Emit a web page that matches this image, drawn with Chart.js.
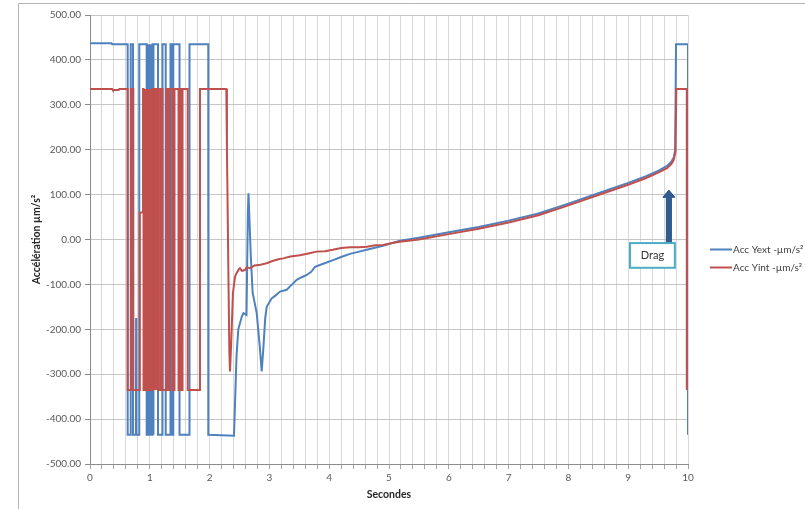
<!DOCTYPE html>
<html>
<head>
<meta charset="utf-8">
<script src="https://cdn.jsdelivr.net/npm/chart.js@4/dist/chart.umd.min.js"></script>
<style>
  html, body { margin: 0; padding: 0; background: #fff; }
  #wrap { position: relative; width: 805px; height: 509px; }
</style>
</head>
<body>
<div id="wrap"><canvas id="c" width="805" height="509"></canvas></div>
<script>
// Acc Yext (external accelerometer), time in seconds / value in µm/s²
const extTimes = [
  0.000, 0.360, 0.370, 0.630, 0.630, 0.681, 0.681, 0.719, 0.719, 0.768, 0.771, 0.775, 0.824,
  0.824, 0.948, 0.948, 0.960, 0.960, 0.968, 0.968, 0.978, 0.978, 0.985, 0.985, 0.996, 0.996,
  1.003, 1.003, 1.010, 1.010, 1.018, 1.018, 1.028, 1.028, 1.036, 1.036, 1.047, 1.047, 1.055,
  1.055, 1.064, 1.064, 1.137, 1.137, 1.212, 1.212, 1.266, 1.266, 1.346, 1.346, 1.363, 1.363,
  1.393, 1.393, 1.497, 1.497, 1.664, 1.664, 1.978, 1.978,
  2.408, 2.450, 2.480, 2.537, 2.565, 2.617, 2.640, 2.650, 2.665, 2.690, 2.720, 2.788, 2.840,
  2.871, 2.900, 2.930, 2.955, 3.038, 3.110, 3.177, 3.289, 3.380, 3.456, 3.540, 3.624, 3.700,
  3.763, 3.900, 4.064, 4.200, 4.348, 4.500, 4.627, 4.900, 5.184, 5.500, 6.000, 6.500, 7.000,
  7.500, 8.000, 8.500, 9.000, 9.300, 9.500, 9.650, 9.720, 9.760, 9.785, 9.800, 10.000, 10.000
];
const extValues = [
  437, 437, 435, 435, -435, -435, 435, 435, -435, -435, -175, -435, -435,
  435, 435, -435, -435, 435, 435, -435, -435, 435, 435, -435, -435, 435,
  435, -320, -320, 435, 435, -435, -435, 435, 435, -435, -435, 435, 435,
  -435, -435, 435, 435, -435, -435, 435, 435, -435, -435, 435, 435, -435,
  -435, 435, 435, -435, -435, 435, 435, -435,
  -437, -260, -200, -172, -164, -168, 60, 103, 50, -40, -119, -164, -240,
  -294, -240, -175, -150, -131, -124, -116, -112, -100, -90, -84, -79, -72,
  -61, -54, -46, -39, -32, -27, -23, -14, -3, 4, 16, 28, 42,
  58, 80, 103, 126, 141, 153, 164, 173, 182, 198, 435, 435, -435
];

// Acc Yint (internal accelerometer)
const intTimes = [
  0.000, 0.370, 0.380, 0.480, 0.490, 0.630, 0.630, 0.686, 0.686, 0.725, 0.725, 0.826, 0.826,
  0.836, 0.836, 0.886, 0.886, 0.895, 0.895, 0.905, 0.905, 0.913, 0.913, 0.922, 0.922, 0.930,
  0.930, 0.940, 0.940, 0.948, 0.948, 0.957, 0.957, 0.966, 0.966, 0.975, 0.975, 0.983, 0.983,
  0.992, 0.992, 1.001, 1.001, 1.010, 1.010, 1.018, 1.018, 1.028, 1.028, 1.036, 1.036, 1.046,
  1.046, 1.054, 1.054, 1.063, 1.063, 1.072, 1.072, 1.081, 1.081, 1.090, 1.090, 1.099, 1.099,
  1.108, 1.108, 1.117, 1.117, 1.126, 1.126, 1.135, 1.135, 1.145, 1.145, 1.179, 1.179, 1.212,
  1.212, 1.279, 1.279, 1.304, 1.304, 1.338, 1.338, 1.388, 1.388, 1.413, 1.413, 1.480, 1.480,
  1.505, 1.505, 1.533, 1.533, 1.547, 1.547, 1.634, 1.634, 1.839, 1.839,
  2.280, 2.290, 2.330, 2.341, 2.360, 2.390, 2.425, 2.450, 2.490, 2.508, 2.540, 2.592, 2.620,
  2.675, 2.750, 2.850, 2.955, 3.050, 3.150, 3.230, 3.350, 3.510, 3.650, 3.790, 3.930, 4.060,
  4.200, 4.350, 4.500, 4.630, 4.770, 4.900, 5.050, 5.180, 5.500, 6.000, 6.500, 7.000, 7.500,
  8.000, 8.500, 9.000, 9.300, 9.500, 9.650, 9.720, 9.760, 9.790, 9.805, 9.980, 9.980
];
const intValues = [
  335, 335, 333, 333, 335, 335, -335, -335, 335, 335, -335, -335, 25,
  25, 60, 60, 335, 335, -335, -335, 335, 335, -335, -335, 335, 335,
  -335, -335, 335, 335, -335, -335, 335, 335, -335, -335, 335, 335, -335,
  -335, 335, 335, -335, -335, 335, 335, -335, -335, 335, 335, -335, -335,
  335, 335, -335, -335, 335, 335, -335, -335, 335, 335, -335, -335, 335,
  335, -335, -335, 335, 335, -335, -335, 335, 335, -335, -335, 335, 335,
  -335, -335, 335, 335, -335, -335, 335, 335, -335, -335, 335, 335, -335,
  -335, 335, 335, -335, -335, 335, 335, -335, -335, 335,
  335, 200, -250, -294, -235, -120, -83, -75, -66, -64, -70, -68, -62,
  -64, -58, -56, -53, -48, -44, -42, -38, -35, -31, -27, -26, -23,
  -19, -17, -17, -16, -13, -12, -8, -5, 0, 12, 24, 38, 54,
  76, 99, 122, 137, 149, 159, 168, 177, 195, 335, 335, -335
];

const seriesNames = ['Acc Yext -µm/s²', 'Acc Yint -µm/s²'];
const xTickLabels = ['0', '1', '2', '3', '4', '5', '6', '7', '8', '9', '10'];
const calloutText = 'Drag';

const BLUE = '#4F81BD';
const RED = '#C0504D';
const FONT = 'Lato, "Open Sans", sans-serif';

function toPoints(times, values) {
  return times.map((t, i) => ({ x: t, y: values[i] }));
}

// frame, legend and the "Drag" callout with its arrow
const decorations = {
  id: 'decorations',
  beforeDraw(chart) {
    const ctx = chart.ctx;
    ctx.save();
    ctx.fillStyle = '#ffffff';
    ctx.fillRect(0, 0, chart.width, chart.height);
    ctx.strokeStyle = '#b4b4b4';
    ctx.lineWidth = 1;
    ctx.beginPath();
    ctx.moveTo(18.5, chart.height);
    ctx.lineTo(18.5, 3.5);
    ctx.lineTo(chart.width, 3.5);
    ctx.stroke();
    ctx.restore();
  },
  afterDraw(chart) {
    const ctx = chart.ctx;
    const xs = chart.scales.x, ys = chart.scales.y;
    ctx.save();

    // legend
    const colors = [BLUE, RED];
    const rows = [249.5, 267.5];
    ctx.font = '10px ' + FONT;
    ctx.textBaseline = 'middle';
    ctx.textAlign = 'left';
    seriesNames.forEach((name, i) => {
      ctx.strokeStyle = colors[i];
      ctx.lineWidth = 2;
      ctx.beginPath();
      ctx.moveTo(710, rows[i]);
      ctx.lineTo(732, rows[i]);
      ctx.stroke();
      ctx.fillStyle = '#404040';
      ctx.fillText(name, 733, rows[i]);
    });

    // arrow pointing up at the curve
    const ax = xs.getPixelForValue(9.68);
    const tipY = ys.getPixelForValue(110);
    const headY = ys.getPixelForValue(94);
    const baseY = ys.getPixelForValue(-8);
    ctx.fillStyle = '#2F5D8E';
    ctx.strokeStyle = '#27507C';
    ctx.lineWidth = 1;
    ctx.beginPath();
    ctx.moveTo(ax - 2.5, baseY);
    ctx.lineTo(ax - 2.5, headY);
    ctx.lineTo(ax - 6, headY);
    ctx.lineTo(ax, tipY);
    ctx.lineTo(ax + 6, headY);
    ctx.lineTo(ax + 2.5, headY);
    ctx.lineTo(ax + 2.5, baseY);
    ctx.closePath();
    ctx.fill();
    ctx.stroke();

    // callout box
    const bx0 = xs.getPixelForValue(9.03), bx1 = xs.getPixelForValue(9.78);
    const by0 = ys.getPixelForValue(-8), by1 = ys.getPixelForValue(-63);
    ctx.fillStyle = '#ffffff';
    ctx.fillRect(bx0, by0, bx1 - bx0, by1 - by0);
    ctx.strokeStyle = '#4BACC6';
    ctx.lineWidth = 2;
    ctx.strokeRect(bx0, by0, bx1 - bx0, by1 - by0);
    ctx.fillStyle = '#333333';
    ctx.font = '11px ' + FONT;
    ctx.textAlign = 'center';
    ctx.fillText(calloutText, (bx0 + bx1) / 2, (by0 + by1) / 2 + 0.5);
    ctx.restore();
  }
};

new Chart(document.getElementById('c'), {
  type: 'line',
  data: {
    datasets: [
      {
        label: seriesNames[0],
        data: toPoints(extTimes, extValues),
        borderColor: BLUE,
        backgroundColor: BLUE,
        borderWidth: 2,
        pointRadius: 0,
        tension: 0,
        order: 2
      },
      {
        label: seriesNames[1],
        data: toPoints(intTimes, intValues),
        borderColor: RED,
        backgroundColor: RED,
        borderWidth: 2,
        pointRadius: 0,
        tension: 0,
        order: 1
      }
    ]
  },
  options: {
    responsive: false,
    animation: false,
    devicePixelRatio: 1,
    layout: { padding: { left: 0, top: 15, right: 117, bottom: 0 } },
    plugins: {
      legend: { display: false },
      tooltip: { enabled: false }
    },
    scales: {
      x: {
        type: 'linear',
        min: 0,
        max: 10,
        afterFit(scale) { scale.height = 45; },
        ticks: {
          stepSize: 0.2,
          autoSkip: false,
          maxRotation: 0,
          padding: 3,
          color: '#595959',
          font: { family: FONT, size: 10 },
          callback(v) {
            const r = Math.round(v);
            return Math.abs(v - r) < 1e-6 ? xTickLabels[r] : '';
          }
        },
        grid: { color: '#d9d9d9', tickColor: '#a6a6a6', tickLength: 5, lineWidth: 1 },
        border: { color: '#8c8c8c' },
        title: {
          display: true,
          text: 'Secondes',
          color: '#262626',
          font: { family: FONT, size: 10.5, weight: 'bold' },
          padding: { top: 0, bottom: 8.5 }
        }
      },
      y: {
        min: -500,
        max: 500,
        afterFit(scale) { scale.width = 90; },
        ticks: {
          stepSize: 100,
          padding: 4,
          color: '#595959',
          font: { family: FONT, size: 10 },
          callback(v) { return v.toFixed(2); }
        },
        grid: { color: '#c6c6c6', tickColor: '#8c8c8c', tickLength: 5, lineWidth: 1 },
        border: { color: '#8c8c8c' },
        title: {
          display: true,
          text: 'Accélération µm/s²',
          color: '#262626',
          font: { family: FONT, size: 10.5, weight: 'bold' },
          padding: { top: 30.5, bottom: 0 }
        }
      }
    }
  },
  plugins: [decorations]
});
</script>
</body>
</html>
